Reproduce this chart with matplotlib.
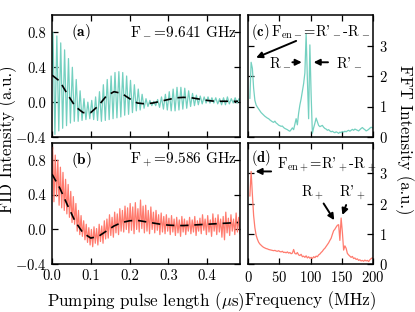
import numpy as np
import matplotlib
matplotlib.use("Agg")
import matplotlib.pyplot as plt

plt.rcParams['font.family'] = 'serif'
plt.rcParams['font.serif'] = ['cmr10']
plt.rcParams['mathtext.fontset'] = 'cm'
plt.rcParams['axes.formatter.use_mathtext'] = True
plt.rcParams['axes.unicode_minus'] = True

TEAL = '#74d0c0'
SALMON = '#ff7b6e'

# ---- FID (a): peaks / troughs of the fast oscillation
start_a = 0.31
peaks_a = [0.80, 0.76, 0.68, 0.60, 0.50, 0.40, 0.26, 0.13, 0.04, 0.00,
           0.02, 0.06, 0.12, 0.20, 0.26, 0.30, 0.34, 0.35, 0.34, 0.30,
           0.25, 0.20, 0.15, 0.09, 0.04, 0.02, 0.01, 0.03, 0.06, 0.09,
           0.12, 0.15, 0.17, 0.17, 0.16, 0.13, 0.10, 0.08, 0.07, 0.06,
           0.06, 0.05, 0.05, 0.04, 0.05, 0.06, 0.04, 0.05, 0.04]
troughs_a = [-0.37, -0.33, -0.30, -0.27, -0.24, -0.22, -0.22, -0.21, -0.20, -0.19,
             -0.20, -0.21, -0.22, -0.21, -0.20, -0.19, -0.18, -0.17, -0.15, -0.14,
             -0.12, -0.10, -0.09, -0.07, -0.05, -0.04, -0.04, -0.06, -0.08, -0.09,
             -0.10, -0.10, -0.09, -0.08, -0.07, -0.05, -0.04, -0.03, -0.02, -0.01,
             -0.01, -0.01, -0.02, -0.03, -0.03, -0.02, -0.01, -0.01, -0.02]
period_a = 0.01

# ---- FID (b)
start_b = 0.62
peaks_b = [0.95, 0.86, 0.80, 0.72, 0.66, 0.58, 0.52, 0.44, 0.38, 0.30, 0.22, 0.16,
           0.10, 0.06, 0.02, 0.00, 0.03, 0.01, 0.06, 0.04, 0.10, 0.12, 0.17, 0.14,
           0.20, 0.18, 0.24, 0.22, 0.27, 0.25, 0.30, 0.26, 0.31, 0.24, 0.34, 0.27,
           0.28, 0.22, 0.26, 0.20, 0.22, 0.17, 0.19, 0.15, 0.17, 0.13, 0.16, 0.12,
           0.14, 0.11, 0.15, 0.12, 0.10, 0.14, 0.11, 0.15, 0.10, 0.13, 0.17, 0.12,
           0.16, 0.11, 0.18, 0.13, 0.17, 0.12, 0.15, 0.20, 0.13, 0.17, 0.12, 0.19,
           0.14]
troughs_b = [0.32, 0.38, 0.28, 0.25, 0.22, 0.18, 0.14, 0.08, 0.06, -0.02, -0.06, -0.08,
             -0.12, -0.15, -0.18, -0.20, -0.16, -0.18, -0.14, -0.16, -0.11, -0.10, -0.07, -0.09,
             -0.04, -0.06, -0.02, -0.03, 0.00, -0.04, -0.01, -0.05, 0.00, -0.03, 0.01, -0.04,
             -0.02, -0.05, 0.00, -0.04, -0.01, -0.06, -0.03, -0.05, -0.02, -0.06, -0.03, -0.07,
             -0.04, -0.08, -0.03, -0.06, -0.02, -0.05, -0.03, -0.07, -0.02, -0.05, -0.01, -0.06,
             -0.03, -0.08, -0.02, -0.06, -0.03, -0.09, -0.12, -0.04, -0.07, -0.02, -0.06, -0.03,
             -0.05]
period_b = 0.02 / 3

# ---- slow (dashed) component
t_fit = [0.00, 0.02, 0.04, 0.06, 0.08, 0.10, 0.12, 0.14, 0.16, 0.18, 0.20, 0.22, 0.24,
         0.26, 0.28, 0.30, 0.32, 0.34, 0.36, 0.38, 0.40, 0.42, 0.44, 0.46, 0.48]
fit_a = [0.31, 0.24, 0.09, -0.05, -0.12, -0.12, -0.04, 0.07, 0.12, 0.10, 0.04, -0.01, -0.02,
         -0.01, 0.01, 0.03, 0.05, 0.055, 0.05, 0.035, 0.02, 0.01, 0.01, 0.01, 0.01]
fit_b = [0.64, 0.48, 0.28, 0.09, -0.04, -0.10, -0.08, -0.02, 0.04, 0.08, 0.10, 0.105, 0.09,
         0.075, 0.06, 0.05, 0.045, 0.045, 0.05, 0.055, 0.06, 0.065, 0.07, 0.075, 0.08]

# ---- FFT spectra (MHz, odd frequencies 3..199)
fft_c = [1.27, 2.45, 2.25, 1.60, 1.20, 1.05, 0.98, 0.92, 0.86, 0.80,
         0.76, 0.72, 0.68, 0.65, 0.62, 0.60, 0.56, 0.53, 0.50, 0.48,
         0.52, 0.46, 0.43, 0.39, 0.37, 0.35, 0.36, 0.31, 0.28, 0.26,
         0.24, 0.21, 0.19, 0.24, 0.30, 0.24, 0.42, 0.60, 0.40, 0.78,
         1.05, 1.25, 1.50, 1.75, 2.10, 3.38, 1.90, 0.60, 3.02, 1.40,
         0.12, 0.30, 0.45, 0.62, 0.50, 0.38, 0.34, 0.36, 0.38, 0.32,
         0.28, 0.26, 0.22, 0.24, 0.20, 0.17, 0.19, 0.16, 0.14, 0.17,
         0.15, 0.12, 0.16, 0.14, 0.18, 0.16, 0.19, 0.17, 0.20, 0.22,
         0.19, 0.22, 0.25, 0.22, 0.26, 0.24, 0.22, 0.20, 0.24, 0.28,
         0.31, 0.27, 0.24, 0.20, 0.22, 0.25, 0.29, 0.32, 0.30]
fft_d = [2.25, 3.06, 2.30, 1.60, 1.20, 0.95, 0.82, 0.72, 0.66, 0.62,
         0.58, 0.55, 0.53, 0.51, 0.50, 0.48, 0.47, 0.46, 0.45, 0.44,
         0.45, 0.43, 0.42, 0.44, 0.41, 0.40, 0.42, 0.38, 0.39, 0.37,
         0.40, 0.36, 0.38, 0.34, 0.36, 0.48, 0.35, 0.33, 0.38, 0.30,
         0.28, 0.32, 0.24, 0.26, 0.22, 0.27, 0.20, 0.24, 0.19, 0.22,
         0.18, 0.24, 0.21, 0.26, 0.24, 0.30, 0.33, 0.38, 0.42, 0.48,
         0.52, 0.58, 0.64, 0.70, 0.78, 0.85, 0.98, 1.10, 1.15, 1.22,
         1.28, 1.30, 0.78, 1.52, 1.05, 0.46, 0.60, 0.52, 0.35, 0.30,
         0.26, 0.22, 0.25, 0.18, 0.20, 0.15, 0.17, 0.12, 0.14, 0.10,
         0.12, 0.09, 0.13, 0.10, 0.12, 0.08, 0.14, 0.18, 0.20]
freq = np.arange(3, 200, 2)


def zigzag(start, peaks, troughs, period):
    n = len(peaks)
    t = np.empty(2 * n + 1)
    y = np.empty(2 * n + 1)
    t[0], y[0] = 0.0, start
    t[1::2] = period / 4 + period * np.arange(n)
    t[2::2] = 3 * period / 4 + period * np.arange(n)
    y[1::2] = peaks
    y[2::2] = troughs
    return t, y


fig = plt.figure(figsize=(4.15, 3.12), dpi=100)
W, H = 415.0, 312.0
ax_a = fig.add_axes([52 / W, 1 - 137 / H, 188 / W, 122 / H])
ax_b = fig.add_axes([52 / W, 1 - 264 / H, 188 / W, 121 / H])
ax_c = fig.add_axes([248 / W, 1 - 137 / H, 125 / W, 122 / H])
ax_d = fig.add_axes([248 / W, 1 - 264 / H, 125 / W, 121 / H])

for ax in (ax_a, ax_b, ax_c, ax_d):
    ax.tick_params(direction='in', top=True, right=True, length=4, width=0.9,
                   labelsize=10.5, pad=4)
    for s in ax.spines.values():
        s.set_linewidth(1.1)

# left panels
t, y = zigzag(start_a, peaks_a, troughs_a, period_a)
ax_a.plot(t, y, color=TEAL, lw=0.9)
ax_a.plot(t_fit, fit_a, color='k', lw=1.2, dashes=(5, 3.5))
t, y = zigzag(start_b, peaks_b, troughs_b, period_b)
ax_b.plot(t, y, color=SALMON, lw=0.9)
ax_b.plot(t_fit, fit_b, color='k', lw=1.2, dashes=(5, 3.5))

for ax in (ax_a, ax_b):
    ax.set_xlim(0, 0.485)
    ax.set_ylim(-0.4, 1.0)
    ax.set_xticks([0.0, 0.1, 0.2, 0.3, 0.4])
    ax.set_yticks([-0.4, 0.0, 0.4, 0.8])
    ax.yaxis.set_major_formatter(matplotlib.ticker.FuncFormatter(
        lambda v, p: ('$-$' if v < 0 else '') + '%.1f' % abs(v)))
    ax.xaxis.set_major_formatter(matplotlib.ticker.FormatStrFormatter('%.1f'))
ax_a.tick_params(labelbottom=False)

ax_a.text(0.1, 0.86, r'$\mathbf{(a)}$', transform=ax_a.transAxes, fontsize=11, va='center')
ax_a.text(0.985, 0.86, r'F$_-$=9.641 GHz', transform=ax_a.transAxes, fontsize=11,
          va='center', ha='right')
ax_b.text(0.1, 0.86, r'$\mathbf{(b)}$', transform=ax_b.transAxes, fontsize=11, va='center')
ax_b.text(0.985, 0.86, r'F$_+$=9.586 GHz', transform=ax_b.transAxes, fontsize=11,
          va='center', ha='right')
ax_b.set_xlabel(r'Pumping pulse length ($\mu$s)', fontsize=12.2, labelpad=5)

# right panels
ax_c.plot(freq, fft_c, color=TEAL, lw=0.9)
ax_d.plot(freq, fft_d, color=SALMON, lw=0.9)
for ax in (ax_c, ax_d):
    ax.set_xlim(0, 200)
    ax.set_ylim(0, 4)
    ax.set_xticks([0, 50, 100, 150, 200])
    ax.set_yticks([0, 1, 2, 3])
    ax.tick_params(labelleft=False, labelright=True)
ax_c.tick_params(labelbottom=False)
ax_d.set_xlabel('Frequency (MHz)', fontsize=12.2, labelpad=5)

arrow = dict(arrowstyle='-|>', color='k', lw=1.4, mutation_scale=9, shrinkA=0, shrinkB=0)

ax_c.text(0.02, 0.86, r'$\mathbf{(c)}$', transform=ax_c.transAxes, fontsize=10.5, va='center')
ax_c.text(36, 3.45, r"F$_{\rm en-}$=R'$_-$-R$_-$", fontsize=10.5, va='center')
ax_c.annotate('', xy=(13, 2.6), xytext=(77, 3.15), arrowprops=arrow)
ax_c.text(33, 2.45, r'R$_-$', fontsize=10.5, va='center')
ax_c.annotate('', xy=(86, 2.45), xytext=(71, 2.45), arrowprops=arrow)
ax_c.text(141, 2.45, r"R'$_-$", fontsize=10.5, va='center')
ax_c.annotate('', xy=(105, 2.45), xytext=(128, 2.45), arrowprops=arrow)

ax_d.text(0.02, 0.88, r'$\mathbf{(d)}$', transform=ax_d.transAxes, fontsize=10.5, va='center')
ax_d.text(47, 3.27, r"F$_{\rm en+}$=R'$_+$-R$_+$", fontsize=10.5, va='center')
ax_d.annotate('', xy=(12, 3.06), xytext=(37, 3.06), arrowprops=arrow)
ax_d.text(85, 2.35, r'R$_+$', fontsize=10.5, va='center')
ax_d.text(146, 2.35, r"R'$_+$", fontsize=10.5, va='center')
ax_d.annotate('', xy=(138, 1.45), xytext=(121, 2.0), arrowprops=arrow)
ax_d.annotate('', xy=(151, 1.62), xytext=(157, 1.95), arrowprops=arrow)

fig.text(8 / W, 0.553, 'FID Intensity (a.u.)', rotation=90, fontsize=12.2,
         ha='center', va='center')
fig.text(404 / W, 0.553, 'FFT Intensity (a.u.)', rotation=270, fontsize=12,
         ha='center', va='center')

fig.savefig('out.png', dpi=100)
